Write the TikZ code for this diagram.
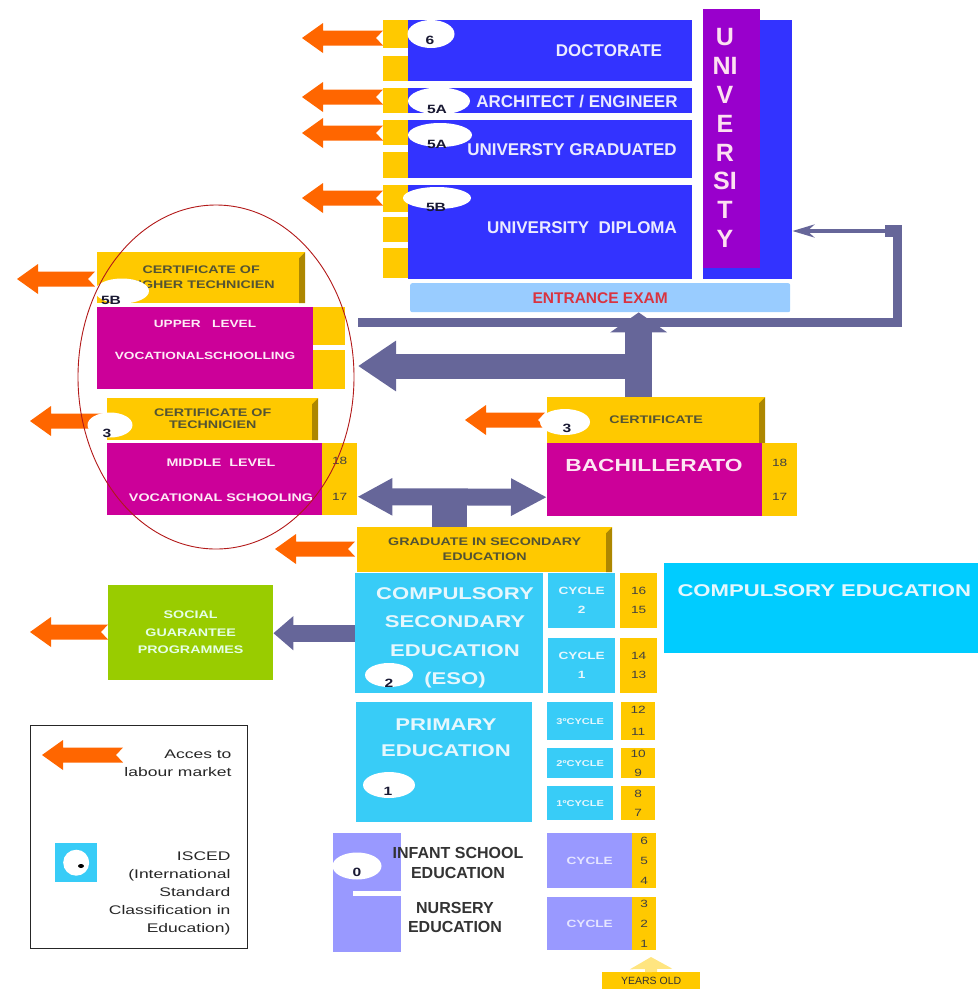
\documentclass[tikz,border=0pt]{standalone}
\usepackage{fontspec}
\setmainfont{Liberation Sans}
\newfontfamily\widesf[FakeStretch=1.3]{Liberation Sans}
\newfontfamily\legendsf[FakeStretch=1.4]{Liberation Sans}
\usepackage{tikz}
\usetikzlibrary{shapes.geometric, arrows.meta, calc}
\definecolor{jobcol}{rgb}{1.0, 0.4, 0.0}
\definecolor{gold}{rgb}{1.0, 0.79, 0.0}
\definecolor{certshade}{rgb}{0.68, 0.53, 0.0}
\definecolor{uniblue}{rgb}{0.2, 0.2, 1.0}
\definecolor{unipurple}{rgb}{0.6, 0.0, 0.8}
\definecolor{examblue}{rgb}{0.6, 0.8, 1.0}
\definecolor{examred}{rgb}{0.85, 0.2, 0.25}
\definecolor{vocmagenta}{rgb}{0.8, 0.0, 0.6}
\definecolor{skyblue}{rgb}{0.22, 0.8, 0.97}
\definecolor{compblue}{rgb}{0.0, 0.8, 1.0}
\definecolor{lavender}{rgb}{0.6, 0.6, 1.0}
\definecolor{sgpgreen}{rgb}{0.6, 0.8, 0.0}
\definecolor{govgrey}{rgb}{0.4, 0.4, 0.6}
\definecolor{ringred}{rgb}{0.7, 0.1, 0.1}
\definecolor{certtxt}{rgb}{0.33, 0.33, 0.2}
\definecolor{numtxt}{rgb}{0.25, 0.25, 0.25}
\definecolor{lvltxt}{rgb}{0.1, 0.1, 0.2}
\definecolor{paleyellow}{rgb}{1.0, 0.9, 0.5}
% orange "access to labour market" arrow, tip at #2, length #1
\newcommand{\jobarrow}[2][80]{%
  \fill[jobcol] (#2) -- ++(21,-15) -- ++(0,7.5) -- ++(#1-21,0) -- ++(-7,7.5)
    -- ++(7,7.5) -- ++(-#1+21,0) -- ++(0,7.5) -- cycle;}

\tikzset{
  box/.style={rectangle, inner sep=0pt, anchor=north west, align=center},
  unibox/.style={box, fill=uniblue},
  unitext/.style={text=white!92!blue, font=\bfseries\fontsize{17}{17}\selectfont},
  cert/.style={box, fill=gold, text=certtxt, font=\widesf\bfseries\fontsize{11}{14}\selectfont,
    path picture={\fill[certshade] (path picture bounding box.north east) -- ++(-6,6)
      -- ([xshift=-6pt]path picture bounding box.south east)
      -- (path picture bounding box.south east) -- cycle;}},
  voc/.style={box, fill=vocmagenta},
  voctext/.style={align=center, text=white!92!magenta, font=\widesf\bfseries\fontsize{10.5}{32}\selectfont},
  yrs/.style={box, fill=gold, text=numtxt, font=\widesf\fontsize{10.5}{19}\selectfont},
  sky/.style={box, fill=skyblue},
  skytext/.style={align=center, text=white!90!cyan, font=\widesf\bfseries\fontsize{17}{28.5}\selectfont},
  cyc/.style={text=white!90!cyan, font=\widesf\bfseries\fontsize{10.5}{19}\selectfont},
  lav/.style={box, fill=lavender, text=white!90!blue, font=\widesf\bfseries\fontsize{10.5}{19}\selectfont},
  inftext/.style={align=center, text=black!80, font=\bfseries\fontsize{16}{20}\selectfont},
  badge/.style={ellipse, fill=white, inner sep=0pt},
  lvl/.style={text=lvltxt, font=\widesf\bfseries\fontsize{12}{12}\selectfont},
  legtext/.style={align=right, text=black!85, font=\legendsf\fontsize{12.5}{18}\selectfont},
  flow/.style={draw=govgrey}
}

\begin{document}
\begin{tikzpicture}[x=1pt, y=-1pt]
    \useasboundingbox (0,0) rectangle (978,989);

    % university
    \fill[gold] (383,20) rectangle ++(25,28);
    \fill[gold] (383,56) rectangle ++(25,25);
    \fill[gold] (383,88) rectangle ++(25,25);
    \fill[gold] (383,120) rectangle ++(25,25);
    \fill[gold] (383,152) rectangle ++(25,26);
    \fill[gold] (383,185) rectangle ++(25,27);
    \fill[gold] (383,217) rectangle ++(25,25);
    \fill[gold] (383,248) rectangle ++(25,30);

    \node[unibox, minimum width=284pt, minimum height=61pt] (doct) at (408,20) {};
    \node[unitext] (doctt) at (609,51) {DOCTORATE};
    \node[unibox, minimum width=284pt, minimum height=25pt] (arch) at (408,88) {};
    \node[unitext] (archt) at (577,102) {ARCHITECT / ENGINEER};
    \node[unibox, minimum width=284pt, minimum height=58pt] (ugrad) at (408,120) {};
    \node[unitext] (ugradt) at (572,150) {UNIVERSTY GRADUATED};
    \node[unibox, minimum width=284pt, minimum height=94pt] (udipl) at (408,185) {};
    \node[unitext] (udiplt) at (582,228) {UNIVERSITY\ \ DIPLOMA};

    \node[unibox, minimum width=89pt, minimum height=259pt] (unibg) at (703,20) {};
    \node[box, fill=unipurple, minimum width=57pt, minimum height=259pt] (uni) at (703,9) {};
    \node[align=center, text=white!88!magenta, font=\bfseries\fontsize{25}{28.8}\selectfont] (unit) at (725,138) {U\\NI\\V\\E\\R\\SI\\T\\Y};

    \node[box, fill=examblue, rounded corners=2pt, text=examred, font=\bfseries\fontsize{15.5}{15.5}\selectfont,
        minimum width=380pt, minimum height=29pt] (exam) at (410,283) {ENTRANCE EXAM};

    % vocational schooling
    \node[cert, font=\widesf\bfseries\fontsize{11}{15}\selectfont, minimum width=208pt, minimum height=51pt] (hcert) at (97,252) {CERTIFICATE OF\\HIGHER TECHNICIEN};
    \node[voc, minimum width=216pt, minimum height=82pt] (upvoc) at (97,307) {};
    \node[voctext] (upvoct) at (205,340) {UPPER\ \ \ LEVEL\\VOCATIONALSCHOOLLING};
    \node[yrs, minimum width=32pt, minimum height=38pt] (upyrs1) at (313,307) {};
    \node[yrs, minimum width=32pt, minimum height=39pt] (upyrs2) at (313,350) {};

    \node[cert, font=\widesf\bfseries\fontsize{11}{12}\selectfont, minimum width=211pt, minimum height=42pt] (tcert) at (107,398) {CERTIFICATE OF\\TECHNICIEN};
    \node[voc, minimum width=215pt, minimum height=72pt] (midvoc) at (107,443) {};
    \node[voctext, font=\widesf\bfseries\fontsize{11}{35}\selectfont] (midvoct) at (221,480) {MIDDLE\ \ LEVEL\\VOCATIONAL SCHOOLING};
    \node[yrs, font=\widesf\fontsize{10.5}{36}\selectfont, minimum width=35pt, minimum height=72pt] (midyrs) at (322,443) {18\\17};

    % bachillerato
    \node[cert, minimum width=218pt, minimum height=46pt] (bcert) at (547,397) {CERTIFICATE};
    \node[voc, minimum width=215pt, minimum height=73pt] (bach) at (547,443) {};
    \node[text=white!90!magenta, font=\widesf\bfseries\fontsize{17.5}{17.5}\selectfont] (bacht) at (654,465) {BACHILLERATO};
    \node[yrs, font=\widesf\fontsize{10.5}{34}\selectfont, minimum width=35pt, minimum height=73pt] (bachyrs) at (762,443) {18\\17};

    \node[cert, font=\widesf\bfseries\fontsize{11}{15}\selectfont, minimum width=255pt, minimum height=45pt] (gse) at (357,527) {GRADUATE IN SECONDARY\\EDUCATION};

    % compulsory secondary
    \node[sky, minimum width=188pt, minimum height=120pt] (eso) at (355,573) {};
    \node[skytext] (esot) at (455,638) {COMPULSORY\\SECONDARY\\EDUCATION\\(ESO)};
    \node[sky, cyc, minimum width=67pt, minimum height=55pt] (cyc2) at (548,573) {CYCLE\\2};
    \node[sky, cyc, minimum width=67pt, minimum height=55pt] (cyc1) at (548,638) {CYCLE\\1};
    \node[yrs, minimum width=37pt, minimum height=55pt] (y1615) at (620,573) {16\\15};
    \node[yrs, minimum width=37pt, minimum height=55pt] (y1413) at (620,638) {14\\13};
    \node[box, fill=compblue, minimum width=314pt, minimum height=90pt] (comp) at (664,563) {};
    \node[anchor=west, text=white!90!cyan, font=\widesf\bfseries\fontsize{17}{17}\selectfont] (compt) at (674,591) {COMPULSORY EDUCATION};

    % primary
    \node[sky, minimum width=176pt, minimum height=120pt] (prim) at (356,702) {};
    \node[skytext, font=\widesf\bfseries\fontsize{17}{26}\selectfont] (primt) at (446,738) {PRIMARY\\EDUCATION};
    \node[sky, cyc, font=\widesf\bfseries\fontsize{8.5}{8.5}\selectfont, minimum width=66pt, minimum height=38pt] (cyc3p) at (547,702) {3ºCYCLE};
    \node[sky, cyc, font=\widesf\bfseries\fontsize{8.5}{8.5}\selectfont, minimum width=66pt, minimum height=30pt] (cyc2p) at (547,748) {2ºCYCLE};
    \node[sky, cyc, font=\widesf\bfseries\fontsize{8.5}{8.5}\selectfont, minimum width=66pt, minimum height=34pt] (cyc1p) at (547,786) {1ºCYCLE};
    \node[yrs, font=\widesf\fontsize{10.5}{22}\selectfont, minimum width=34pt, minimum height=38pt] (y1211) at (621,702) {12\\11};
    \node[yrs, minimum width=34pt, minimum height=30pt] (y109) at (621,748) {10\\9};
    \node[yrs, minimum width=34pt, minimum height=34pt] (y87) at (621,786) {8\\7};

    % infant school
    \node[box, fill=lavender, minimum width=68pt, minimum height=119pt] (infant) at (333,833) {};
    \fill[white] (353,891) rectangle (401,896);
    \node[inftext] (infantt) at (458,863) {INFANT SCHOOL\\EDUCATION};
    \node[inftext, font=\bfseries\fontsize{16}{19}\selectfont] (nurst) at (455,917) {NURSERY\\EDUCATION};
    \node[lav, minimum width=85pt, minimum height=55pt] (cycinf) at (547,833) {CYCLE};
    \node[lav, minimum width=85pt, minimum height=53pt] (cycnur) at (547,897) {CYCLE};
    \node[yrs, font=\widesf\fontsize{10.5}{20}\selectfont, minimum width=24pt, minimum height=55pt] (y654) at (632,833) {6\\5\\4};
    \node[yrs, font=\widesf\fontsize{10.5}{20}\selectfont, minimum width=24pt, minimum height=53pt] (y321) at (632,897) {3\\2\\1};

    \node[box, fill=gold, text=black!80, font=\fontsize{10.5}{10.5}\selectfont, minimum width=98pt, minimum height=17pt] (yold) at (602,972) {YEARS OLD};
    \coordinate (yrtip) at (651,957);
    \draw[draw=paleyellow, line width=12pt, -{Triangle[length=12pt, width=42pt]}] (yold.north) -- (yrtip);

    % social guarantee
    \node[box, fill=sgpgreen, text=white!90!green, font=\widesf\bfseries\fontsize{11}{17.5}\selectfont,
        minimum width=165pt, minimum height=95pt] (sgp) at (108,585) {SOCIAL\\GUARANTEE\\PROGRAMMES};

    % legend
    \node[box, draw=black!85, line width=1.2pt, minimum width=217pt, minimum height=223pt] (legend) at (30,725) {};
    \node[legtext, anchor=east] (legjob) at (235,763) {Acces to\\labour market};
    \node[box, fill=skyblue, minimum width=42pt, minimum height=39pt] (iscedicon) at (55,843) {};
    \fill[white] (iscedicon.center) circle (13pt);
    \fill[black] (81,866) ellipse (3pt and 2pt);
    \node[legtext, anchor=east] (legisced) at (234,893) {ISCED\\(International\\Standard\\Classification in\\Education)};

    % pathways
    \coordinate (barstart) at (358,322.5);
    \coordinate (barcorner) at (897.5,322.5);
    \coordinate (barbend) at (897.5,231);
    \draw[flow, line width=9pt] (barstart) -- (barcorner) -- (barbend);
    \fill[govgrey] (885,225) rectangle (902,237);
    \draw[flow, line width=3.5pt, -{Stealth[length=22pt, width=13pt]}] (barbend) -- (barbend -| unibg.east);

    \coordinate (bachup) at ($(bcert.north)+(-17.5,0)$);
    \draw[flow, line width=27pt, -{Triangle[length=20pt, width=56pt]}] (bachup) -- (bachup |- exam.south);
    \coordinate (knee) at (652,366);
    \coordinate (uptip) at (358,366);
    \draw[flow, line width=25pt, -{Triangle[length=38pt, width=48pt]}] (knee) -- (uptip);

    \draw[flow, line width=35pt] ([xshift=-35pt]gse.north) -- ++(0,-31);
    \draw[flow, line width=17pt, {Triangle[length=35pt, width=35pt]}-{Triangle[length=36pt, width=35pt]}]
        ([yshift=-17.5pt]midyrs.east) -- ([yshift=-17.5pt]bach.west);
    \draw[flow, line width=17pt, -{Triangle[length=20pt, width=33pt]}] (eso.west) -- (eso.west -| sgp.east);

    % access to labour market
    \jobarrow[81]{302,38}
    \jobarrow[81]{302,97}
    \jobarrow[81]{302,133}
    \jobarrow[81]{302,198}
    \jobarrow[78]{17,279}
    \jobarrow[75]{30,421}
    \jobarrow[80]{465,420}
    \jobarrow[80]{275,549}
    \jobarrow[78]{30,632}
    \jobarrow[81]{42,755}

    % ISCED levels
    \node[badge, minimum width=47pt, minimum height=28pt] (b6) at (431,34) {};
    \node[lvl] (l6) at (430,40) {6};
    \node[badge, minimum width=62pt, minimum height=27pt] (b5a1) at (439,101) {};
    \node[lvl] (l5a1) at (437,109) {5A};
    \node[badge, minimum width=64pt, minimum height=24pt] (b5a2) at (440,135) {};
    \node[lvl] (l5a2) at (437,144) {5A};
    \node[badge, minimum width=68pt, minimum height=22pt] (b5b) at (437,198) {};
    \node[lvl] (l5b) at (436,207) {5B};
    \node[badge, minimum width=54pt, minimum height=25pt] (b5bv) at (122,291) {};
    \node[lvl] (l5bv) at (111,300) {5B};
    \node[badge, minimum width=45pt, minimum height=25pt] (b3v) at (110,425) {};
    \node[lvl] (l3v) at (107,433) {3};
    \node[badge, minimum width=50pt, minimum height=26pt] (b3b) at (565,422) {};
    \node[lvl] (l3b) at (567,428) {3};
    \node[badge, minimum width=48pt, minimum height=24pt] (b2) at (389,675) {};
    \node[lvl] (l2) at (389,683) {2};
    \node[badge, minimum width=52pt, minimum height=26pt] (b1) at (389,785) {};
    \node[lvl] (l1) at (388,791) {1};
    \node[badge, minimum width=49pt, minimum height=27pt] (b0) at (357,866) {};
    \node[lvl] (l0) at (357,872) {0};

    % vocational ring
    \draw[ringred, line width=0.9pt] (216,377) ellipse (138pt and 172pt);
\end{tikzpicture}
\end{document}
